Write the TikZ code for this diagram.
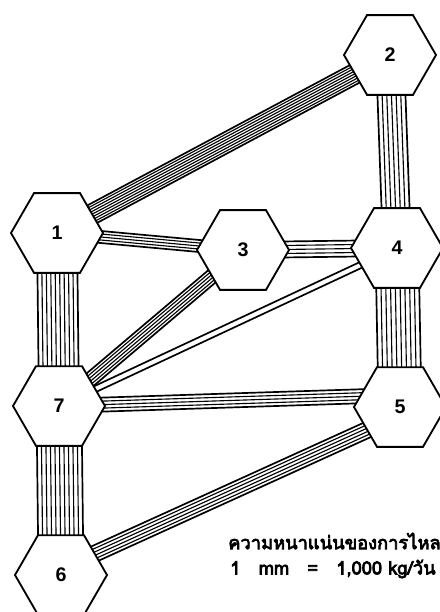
\documentclass[tikz,border=0pt]{standalone}
\usepackage{fontspec}
\newfontfamily\thaifont[Script=Thai, FakeBold=4]{Loma}
\newfontfamily\numfont{Liberation Sans}
\usepackage{tikz}
\usetikzlibrary{calc, positioning, shapes.geometric, backgrounds}

% striped flow band: from, to, width (px), number of gaps
\newcommand{\flowband}[4]{%
  \foreach \k in {0,...,#4}{%
    \pgfmathsetmacro{\bandoff}{(-#3/2+#3*\k/#4)*0.7113}%
    \pgfmathsetmacro{\bandlw}{(\k==0||\k==#4)?1.2:0.8}%
    \draw[line width=\bandlw pt] ($(#1)!\bandoff pt!90:(#2)$) -- ($(#2)!\bandoff pt!-90:(#1)$);
  }}

\begin{document}
\begin{tikzpicture}[x=0.25mm, y=-0.25mm,
    hexnode/.style={draw, fill=white, line width=1.3pt, regular polygon, regular polygon sides=6, minimum size=23mm, inner sep=0pt, font=\numfont\bfseries\fontsize{14}{14}\selectfont},
    legend/.style={inner sep=0pt, anchor=west, font=\thaifont\fontsize{13}{15}\selectfont}]
    \useasboundingbox (0,0) rectangle (440,612);
    \node[hexnode] (h1) at (57,233) {1};
    \node[hexnode] (h2) at (390,55) {2};
    \node[hexnode] (h3) at (243,250) {3};
    \node[hexnode] (h4) at (397,248) {4};
    \node[hexnode] (h5) at (400,407) {5};
    \node[hexnode] (h6) at (61,575) {6};
    \node[hexnode] (h7) at (59,406) {7};
    \coordinate (h5up) at ($(h5)+(0,-12)$);
    \coordinate (h5low) at ($(h5)+(0,8)$);
    \coordinate (h6up) at ($(h6)+(0,-6)$);
    \begin{scope}[on background layer]
      \flowband{h1}{h2}{20}{8}
      \flowband{h2}{h4}{28}{6}
      \flowband{h1}{h7}{40}{9}
      \flowband{h4}{h5}{43}{9}
      \flowband{h7}{h6}{45}{10}
      \flowband{h1}{h3}{12}{4}
      \flowband{h3}{h4}{16}{4}
      \flowband{h7}{h3}{14}{5}
      \flowband{h7}{h4}{6}{1}
      \flowband{h7}{h5up}{14}{4}
      \flowband{h6up}{h5low}{16}{5}
    \end{scope}
    \node[legend] (flowtitle) at (228,541) {ความหนาแน่นของการไหล};
    \node[legend] (flowscale) at (230,569) {1\quad mm\quad =\quad 1,000 kg/วัน};
\end{tikzpicture}
\end{document}
